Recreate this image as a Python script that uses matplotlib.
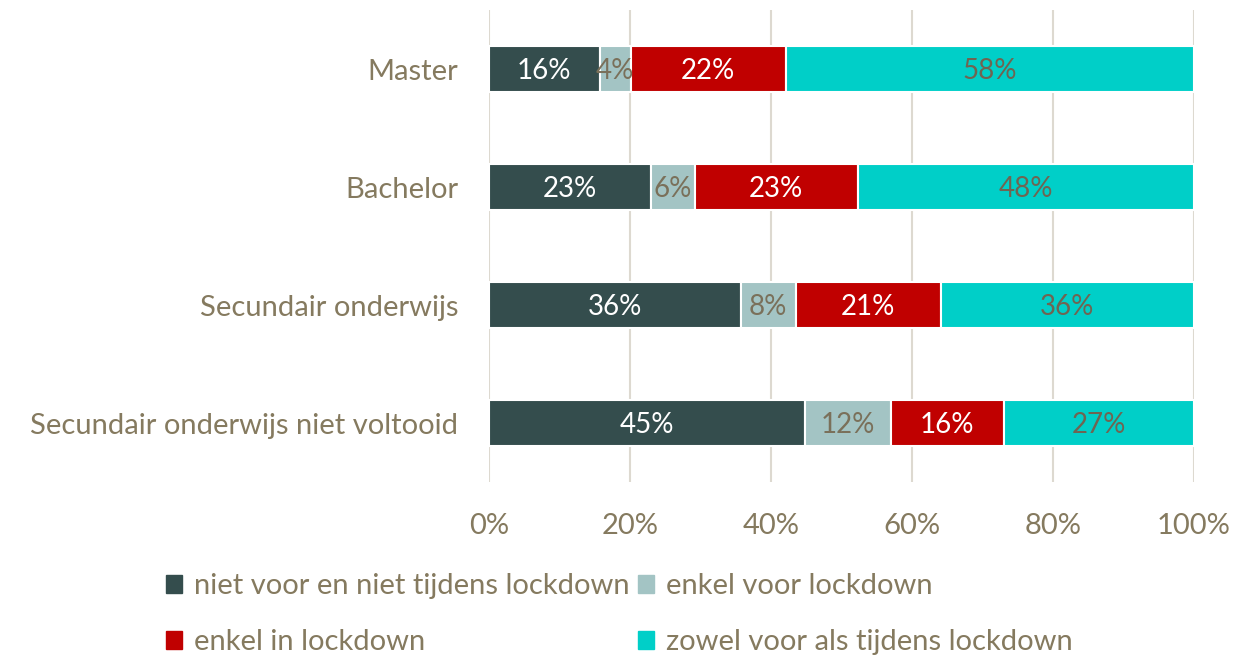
import matplotlib.pyplot as plt
from matplotlib.patches import Patch
import numpy as np

plt.rcParams['font.family'] = ['Lato', 'DejaVu Sans']

# categories (top to bottom)
categories = ['Master', 'Bachelor', 'Secundair onderwijs', 'Secundair onderwijs niet voltooid']
series_names = ['niet voor en niet tijdens lockdown', 'enkel voor lockdown',
                'enkel in lockdown', 'zowel voor als tijdens lockdown']
niet_voor = [15.7, 23.0, 35.7, 44.8]
enkel_voor = [4.4, 6.2, 7.8, 12.2]
enkel_in = [22.0, 23.1, 20.6, 16.0]
zowel = [57.9, 47.7, 35.9, 27.0]

colors = ['#344D4D', '#A3C4C4', '#C00000', '#00CFC8']
label_colors = ['white', '#7A705A', 'white', '#6F6552']
txt = '#857A5F'

fig = plt.figure(figsize=(12.58, 6.55), dpi=100)
ax = fig.add_axes([0.3887, 0.2641, 0.5604, 0.7206])

y = np.arange(len(categories))
left = np.zeros(len(categories))
for vals, c, lc in zip([niet_voor, enkel_voor, enkel_in, zowel], colors, label_colors):
    vals = np.array(vals)
    ax.barh(y, vals, left=left, height=0.39, color=c, edgecolor='white', linewidth=1.5, zorder=3)
    for yi, l, v in zip(y, left, vals):
        ax.text(l + v / 2, yi + 0.015, f'{round(v)}%', ha='center', va='center',
                color=lc, fontsize=20, zorder=4)
    left += vals

ax.set_xlim(0, 100)
ax.set_ylim(3.5, -0.5)
ax.set_xticks(np.arange(0, 101, 20))
ax.set_xticklabels([f'{t}%' for t in range(0, 101, 20)])
ax.set_yticks(y)
ax.set_yticklabels(categories)
ax.tick_params(axis='both', length=0, labelsize=21, colors=txt)
ax.tick_params(axis='x', pad=22)
ax.tick_params(axis='y', pad=22)
ax.grid(axis='x', color='#DDD9D0', linewidth=1.5, zorder=0)
for s in ax.spines.values():
    s.set_visible(False)

handles = [Patch(color=c) for c in colors]
order = [0, 2, 1, 3]
leg = fig.legend([handles[i] for i in order], [series_names[i] for i in order],
                 ncol=2, loc='upper left', bbox_to_anchor=(0.132, 0.125),
                 frameon=False, fontsize=21, handlelength=0.55, handleheight=0.55,
                 handletextpad=0.4, columnspacing=0.3, labelspacing=1.03,
                 borderpad=0, borderaxespad=0)
for t in leg.get_texts():
    t.set_color(txt)

fig.savefig('out.png', dpi=100)
